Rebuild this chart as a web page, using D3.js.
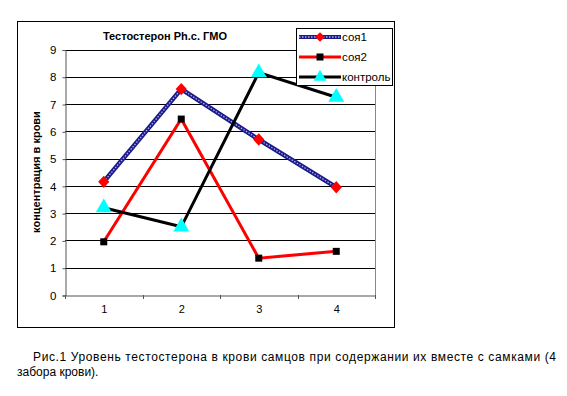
<!DOCTYPE html>
<html><head><meta charset="utf-8">
<script src="https://cdn.jsdelivr.net/npm/d3@7"></script>
<style>body{margin:0;background:#fff}svg{display:block}</style>
</head><body>
<svg id="c" width="567" height="396"></svg>
<script>
const categories = ["1","2","3","4"];
const soya1 = [4.15, 7.55, 5.7, 3.95];
const soya2 = [1.95, 6.45, 1.35, 1.6];
const control = [3.2, 2.5, 8.15, 7.25];
const yTicks = [0,1,2,3,4,5,6,7,8,9];
const seriesNames = ["соя1","соя2","контроль"];
const title = "Тестостерон Ph.c. ГМО";
const yLabel = "концентрация в крови";
const caption1 = "Рис.1 Уровень тестостерона в крови самцов при содержании их вместе с самками (4";
const caption2 = "забора крови).";

const svg = d3.select("#c");
const font = "Arial, 'Liberation Sans', sans-serif";
svg.append("rect").attr("x",17.5).attr("y",21.5).attr("width",377).attr("height",306)
  .attr("fill","#fff").attr("stroke","#000").attr("stroke-width",1);

const x = d3.scaleBand().domain(categories).range([65,375]);
const y = d3.scaleLinear().domain([0,9]).range([295,49.5]);

svg.append("g").selectAll("line").data(yTicks.filter(d=>d>0)).join("line")
  .attr("x1",65).attr("x2",375).attr("y1",d=>Math.round(y(d))+0.5).attr("y2",d=>Math.round(y(d))+0.5)
  .attr("stroke","#000").attr("stroke-width",1);
svg.append("line").attr("x1",375.5).attr("x2",375.5).attr("y1",49.5).attr("y2",295)
  .attr("stroke","#888");

const ya = svg.append("g").attr("transform","translate(65.5,0.5)")
  .call(d3.axisLeft(y).tickValues(yTicks).tickSize(3).tickPadding(6).tickFormat(d3.format("d")));
ya.select(".domain").attr("stroke","#555");
ya.selectAll(".tick line").attr("stroke","#555");
ya.selectAll("text").attr("font-family",font).attr("font-size",11.5).attr("fill","#000");

const xa = svg.append("g").attr("transform","translate(0.5,295.5)")
  .call(d3.axisBottom(x).tickSize(0).tickPadding(10));
xa.select(".domain").attr("stroke","#555");
xa.selectAll("text").attr("font-family",font).attr("font-size",11).attr("fill","#000");
svg.append("g").selectAll("line").data(d3.range(categories.length+1)).join("line")
  .attr("x1",i=>Math.round(65+i*x.step())+0.5).attr("x2",i=>Math.round(65+i*x.step())+0.5)
  .attr("y1",295).attr("y2",299).attr("stroke","#555");

const cx = d => x(d)+x.bandwidth()/2;
const line = d3.line().x((d,i)=>cx(categories[i])).y(d=>y(d));

svg.append("path").datum(soya1).attr("d",line).attr("fill","none").attr("stroke","#1a1a8c").attr("stroke-width",4.5);
svg.append("path").datum(soya1).attr("d",line).attr("fill","none").attr("stroke","#b0b0e0").attr("stroke-width",1.3).attr("stroke-dasharray","1.5,1.5");
svg.append("g").selectAll("path").data(soya1).join("path")
  .attr("d",d3.symbol(d3.symbolDiamond2,80)).attr("fill","#f00")
  .attr("transform",(d,i)=>`translate(${cx(categories[i])},${y(d)}) scale(1,1.1)`);
svg.append("path").datum(soya2).attr("d",line).attr("fill","none").attr("stroke","#f00").attr("stroke-width",3);
svg.append("g").selectAll("rect").data(soya2).join("rect")
  .attr("x",(d,i)=>cx(categories[i])-3.5).attr("y",d=>y(d)-3.5).attr("width",7).attr("height",7).attr("fill","#000");
svg.append("path").datum(control).attr("d",line).attr("fill","none").attr("stroke","#000").attr("stroke-width",3);
svg.append("g").selectAll("path").data(control).join("path")
  .attr("d",d3.symbol(d3.symbolTriangle,110)).attr("fill","#00ffff")
  .attr("transform",(d,i)=>`translate(${cx(categories[i])},${y(d)})`);

svg.append("text").attr("x",165).attr("y",40).attr("text-anchor","middle")
  .attr("font-family",font).attr("font-weight","bold").attr("font-size",11).text(title);
svg.append("text").attr("transform","translate(40,172) rotate(-90)").attr("text-anchor","middle")
  .attr("font-family",font).attr("font-weight","bold").attr("font-size",11).text(yLabel);

const lg = svg.append("g");
lg.append("rect").attr("x",296.5).attr("y",28.5).attr("width",96).attr("height",57)
  .attr("fill","#fff").attr("stroke","#000");
const ly = [37,57,77];
seriesNames.forEach((n,i)=>{
  const yy = ly[i];
  if(i===0){
    lg.append("line").attr("x1",299).attr("x2",341).attr("y1",yy).attr("y2",yy).attr("stroke","#1a1a8c").attr("stroke-width",4);
    lg.append("line").attr("x1",299).attr("x2",341).attr("y1",yy).attr("y2",yy).attr("stroke","#b0b0e0").attr("stroke-width",1.3).attr("stroke-dasharray","1.5,1.5");
    lg.append("path").attr("d",d3.symbol(d3.symbolDiamond2,60)).attr("fill","#f00").attr("transform",`translate(320,${yy})`);
  } else if(i===1){
    lg.append("line").attr("x1",299).attr("x2",341).attr("y1",yy).attr("y2",yy).attr("stroke","#f00").attr("stroke-width",3);
    lg.append("rect").attr("x",316.5).attr("y",yy-3.5).attr("width",7).attr("height",7).attr("fill","#000");
  } else {
    lg.append("line").attr("x1",299).attr("x2",341).attr("y1",yy).attr("y2",yy).attr("stroke","#000").attr("stroke-width",3);
    lg.append("path").attr("d",d3.symbol(d3.symbolTriangle,70)).attr("fill","#00ffff").attr("transform",`translate(320,${yy})`);
  }
  lg.append("text").attr("x",342).attr("y",yy+4).attr("font-family",font).attr("font-size",11.5).text(n);
});

svg.append("text").attr("x",33).attr("y",361).attr("font-family",font).attr("font-size",12)
  .attr("textLength",523).attr("lengthAdjust","spacing").text(caption1);
svg.append("text").attr("x",17).attr("y",376).attr("font-family",font).attr("font-size",12)
  .text(caption2);
</script>
</body></html>
